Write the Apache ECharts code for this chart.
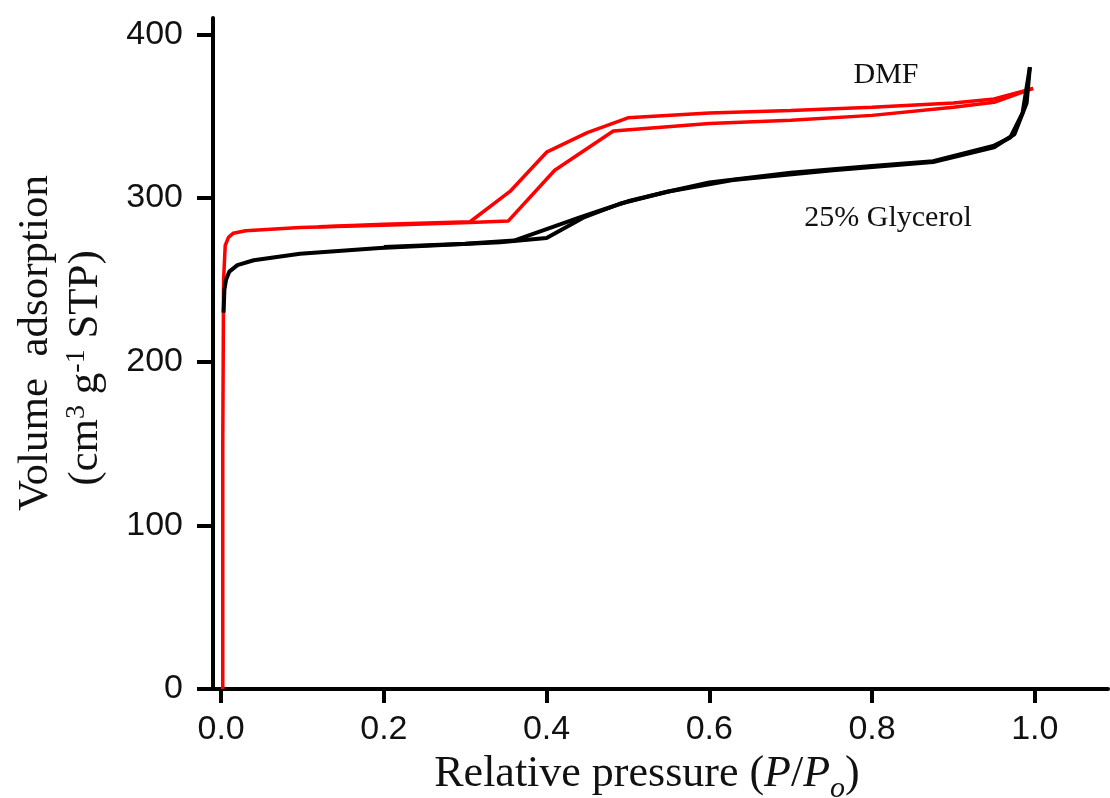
<!DOCTYPE html>
<html>
<head>
<meta charset="utf-8">
<script src="https://cdn.jsdelivr.net/npm/echarts@6/dist/echarts.min.js"></script>
<style>
html,body{margin:0;padding:0;background:#fff;}
#chart{width:1110px;height:798px;}
</style>
</head>
<body>
<div id="chart"></div>
<script>
// Tick values
const xTicks = [0, 0.2, 0.4, 0.6, 0.8, 1.0];
const yTicks = [0, 100, 200, 300, 400];

// DMF (red) adsorption branch [P/Po, volume]
const dmfAds = [[0.002,0],[0.002,150],[0.003,250],[0.005,271],[0.009,276],[0.015,278.5],[0.03,280],[0.097,282],[0.22,283.6],[0.306,285],[0.353,286],[0.41,317],[0.482,341],[0.6,345.5],[0.7,347.5],[0.8,350.5],[0.9,355.5],[0.95,358.5],[0.998,367]];
// DMF (red) desorption branch
const dmfDes = [[0.998,367],[0.95,360.5],[0.9,358],[0.8,355.5],[0.7,353.5],[0.6,352],[0.5,349],[0.45,340],[0.40,328],[0.355,304],[0.306,285.5],[0.2,284],[0.12,282.5]];
// 25% Glycerol (black) adsorption branch
const glyAds = [[0.003,230],[0.004,244],[0.006,250],[0.01,255],[0.02,259],[0.04,262],[0.097,266],[0.195,269.5],[0.343,273],[0.40,275.6],[0.445,288],[0.49,296.5],[0.548,303.8],[0.629,311],[0.752,317],[0.875,322],[0.95,331],[0.975,339],[0.99,358],[0.994,380]];
// 25% Glycerol (black) desorption branch
const glyDes = [[0.994,380],[0.985,352],[0.97,337],[0.95,332],[0.875,322.5],[0.8,319.5],[0.7,315.5],[0.6,309.5],[0.55,304],[0.5,298],[0.47,293],[0.44,288],[0.40,281],[0.36,274],[0.3,272],[0.2,270]];

const chart = echarts.init(document.getElementById('chart'));
const serif = '"Liberation Serif","Times New Roman",serif';
const sans = '"Liberation Sans",Arial,sans-serif';

const option = {
  backgroundColor: '#fff',
  animation: false,
  grid: {left: 213, right: 2, top: 18, bottom: 109, containLabel: false},
  xAxis: {
    type: 'value', min: -0.01, max: 1.09,
    axisLine: {show: true, onZero: false, lineStyle: {color: '#000', width: 4}},
    axisTick: {show: true, inside: false, length: 14, customValues: xTicks, lineStyle: {color: '#000', width: 4}},
    axisLabel: {show: true, margin: 24, customValues: xTicks, fontSize: 34, fontFamily: sans, color: '#111',
      formatter: v => v.toFixed(1)},
    splitLine: {show: false}
  },
  yAxis: {
    type: 'value', min: 0, max: 410,
    axisLine: {show: true, onZero: false, lineStyle: {color: '#000', width: 4}},
    axisTick: {show: true, inside: false, length: 16, customValues: yTicks, lineStyle: {color: '#000', width: 4}},
    axisLabel: {show: true, margin: 30, customValues: yTicks, fontSize: 34, fontFamily: sans, color: '#111'},
    splitLine: {show: false}
  },
  series: [
    {name: 'DMF ads', type: 'line', data: dmfAds, showSymbol: false, smooth: false, lineStyle: {color: '#ff0000', width: 3.5}, itemStyle: {color: '#ff0000'}},
    {name: 'DMF des', type: 'line', data: dmfDes, showSymbol: false, smooth: false, lineStyle: {color: '#ff0000', width: 3.5}, itemStyle: {color: '#ff0000'}},
    {name: 'Gly ads', type: 'line', data: glyAds, showSymbol: false, smooth: false, lineStyle: {color: '#000', width: 4}, itemStyle: {color: '#000'}},
    {name: 'Gly des', type: 'line', data: glyDes, showSymbol: false, smooth: false, lineStyle: {color: '#000', width: 4}, itemStyle: {color: '#000'}}
  ],
  graphic: [
    {type: 'text', x: 647, y: 774, style: {
      text: '{n|Relative pressure (}{i|P}{n|/}{i|P}{sub|o}{n|)}',
      align: 'center', verticalAlign: 'middle', fill: '#111',
      rich: {
        n: {fontSize: 44, lineHeight: 60, fontFamily: serif, fill: '#111'},
        i: {fontSize: 44, lineHeight: 60, fontFamily: serif, fontStyle: 'italic', fill: '#111'},
        sub: {fontSize: 30, fontFamily: serif, fontStyle: 'italic', fill: '#111', verticalAlign: 'top', padding: [30,0,0,0]}
      }}},
    {type: 'text', x: 36, y: 343, rotation: Math.PI / 2, style: {
      text: 'Volume  adsorption', align: 'center', verticalAlign: 'middle',
      fontSize: 43, fontFamily: serif, fill: '#111'}},
    {type: 'text', x: 86, y: 368, rotation: Math.PI / 2, style: {
      text: '{n|(cm}{sup|3}{n| g}{sup|-1}{n| STP)}', align: 'center', verticalAlign: 'middle', fill: '#111',
      rich: {
        n: {fontSize: 43, fontFamily: serif, fill: '#111'},
        sup: {fontSize: 28, fontFamily: serif, fill: '#111', verticalAlign: 'top', padding: [0,0,18,0]}
      }}},
    {type: 'text', x: 886, y: 75, style: {text: 'DMF', align: 'center', verticalAlign: 'middle', fontSize: 30, fontFamily: serif, fill: '#111'}},
    {type: 'text', x: 888, y: 218, style: {text: '25% Glycerol', align: 'center', verticalAlign: 'middle', fontSize: 30, fontFamily: serif, fill: '#111'}}
  ]
};
chart.setOption(option);
</script>
</body>
</html>
